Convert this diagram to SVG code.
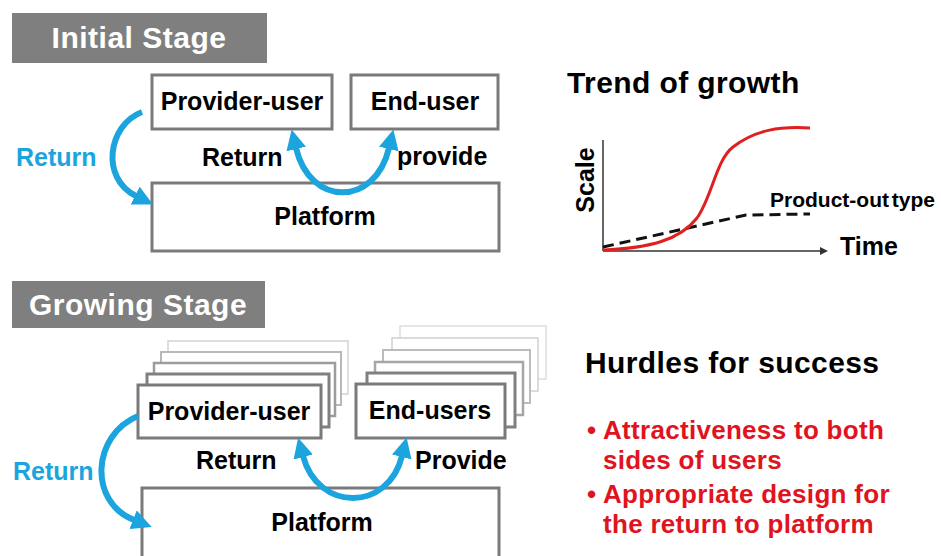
<svg xmlns="http://www.w3.org/2000/svg" width="941" height="556" viewBox="0 0 941 556">
<style>
text{font-family:"Liberation Sans",Arial,sans-serif;font-weight:bold;}
.banner{fill:#7f7f7f;}
.bt{fill:#ffffff;font-size:30px;letter-spacing:0.5px;text-anchor:middle;}
.box{fill:#ffffff;stroke:#7a7a7a;stroke-width:3;}
.lbl{fill:#000000;font-size:25px;text-anchor:middle;}
.blue{fill:#1ba4de;font-size:25px;}
.dk{fill:#000000;font-size:25px;}
.arr{fill:none;stroke:#1ba4de;stroke-width:6;}
.hd{fill:#000000;font-size:30px;letter-spacing:0.4px;}
.red{fill:#e0141e;font-size:26px;letter-spacing:0.3px;}
</style>
<defs>
<marker id="ah" markerUnits="userSpaceOnUse" viewBox="0 0 20 20" markerWidth="20" markerHeight="20" refX="1" refY="10" orient="auto-start-reverse">
<path d="M0,0 L20,10 L0,20 z" fill="#1ba4de"/>
</marker>
<marker id="ax" markerUnits="userSpaceOnUse" viewBox="0 0 8 8" markerWidth="8" markerHeight="8" refX="1" refY="4" orient="auto">
<path d="M0,0 L8,4 L0,8 z" fill="#333333"/>
</marker>
</defs>
<rect width="941" height="556" fill="#ffffff"/>

<g id="initial-stage">
<rect class="banner" x="12" y="13" width="255" height="50"/>
<text class="bt" x="139" y="48">Initial Stage</text>
</g>
<g id="provider-user-1">
<rect class="box" x="152" y="75" width="180" height="54"/>
<text class="lbl" x="242" y="110">Provider-user</text>
</g>
<g id="end-user-1">
<rect class="box" x="351" y="75" width="147" height="54"/>
<text class="lbl" x="425" y="110">End-user</text>
</g>
<g id="platform-1">
<rect class="box" x="152" y="183" width="347" height="68"/>
<text class="lbl" x="325" y="225">Platform</text>
</g>

<g id="growing-stage">
<rect class="banner" x="12" y="281" width="253" height="47"/>
<text class="bt" x="138" y="315">Growing Stage</text>
</g>
<g id="provider-user-2">
<rect class="box" x="168" y="341" width="180" height="53" style="stroke:#d3d3d3;stroke-width:1.5"/>
<rect class="box" x="161" y="352" width="180" height="53" style="stroke:#b8b8b8;stroke-width:2"/>
<rect class="box" x="154" y="363" width="181" height="53" style="stroke:#9c9c9c;stroke-width:2.5"/>
<rect class="box" x="147" y="374" width="182" height="53" style="stroke:#808080"/>
<rect class="box" x="138" y="385" width="183" height="53"/>
<text class="lbl" x="229" y="420">Provider-user</text>
</g>
<g id="end-users-2">
<rect class="box" x="400" y="326" width="146" height="53" style="stroke:#dedede;stroke-width:1.5"/>
<rect class="box" x="392" y="338" width="146" height="53" style="stroke:#d0d0d0;stroke-width:1.5"/>
<rect class="box" x="383" y="350" width="147" height="53" style="stroke:#bcbcbc;stroke-width:2"/>
<rect class="box" x="375" y="362" width="148" height="53" style="stroke:#a6a6a6;stroke-width:2.5"/>
<rect class="box" x="367" y="373" width="148" height="54" style="stroke:#808080"/>
<rect class="box" x="356" y="384" width="149" height="54"/>
<text class="lbl" x="430" y="419">End-users</text>
</g>
<g id="platform-2">
<rect class="box" x="142" y="488" width="357" height="72"/>
<text class="lbl" x="322" y="531">Platform</text>
</g>

<g id="connectors">
<path class="arr" d="M142,112 C108,125 100,178 136,196" marker-end="url(#ah)"/>
<path class="arr" d="M296,148 C310,207 375,207 389,148" marker-start="url(#ah)" marker-end="url(#ah)"/>
<path class="arr" d="M138,416 C92,435 88,502 134,520" marker-end="url(#ah)"/>
<path class="arr" d="M303,456 C318,512 388,512 402,456" marker-start="url(#ah)" marker-end="url(#ah)"/>
</g>
<g id="arrow-labels">
<text class="blue" x="16" y="166">Return</text>
<text class="dk" x="202" y="166">Return</text>
<text class="dk" x="397" y="165">provide</text>
<text class="blue" x="13" y="480">Return</text>
<text class="dk" x="196" y="469">Return</text>
<text class="dk" x="415" y="469">Provide</text>
</g>

<g id="trend-chart">
<text class="hd" x="567" y="93">Trend of growth</text>
<line x1="603" y1="140" x2="603" y2="251" stroke="#333333" stroke-width="1.5"/>
<line x1="603" y1="251" x2="821" y2="251" stroke="#333333" stroke-width="1.5" marker-end="url(#ax)"/>
<text class="dk" transform="translate(594,180) rotate(-90)" text-anchor="middle">Scale</text>
<text class="dk" x="840" y="255">Time</text>
<path d="M603,247 L746,215 L810,214" fill="none" stroke="#111111" stroke-width="3" stroke-dasharray="11 6"/>
<path d="M603,250 C650,248 680,240 697,218 C712,197 716,160 733,147 C755,130 780,126 810,128" fill="none" stroke="#e02020" stroke-width="3"/>
<text x="770" y="207" style="font-size:21px;word-spacing:-3px;fill:#000">Product-out type</text>
</g>

<g id="hurdles">
<text class="hd" x="585" y="373">Hurdles for success</text>
<text class="red" x="587" y="439">•<tspan x="603">Attractiveness to both</tspan></text>
<text class="red" x="603" y="469">sides of users</text>
<text class="red" x="587" y="503">•<tspan x="603">Appropriate design for</tspan></text>
<text class="red" x="603" y="533">the return to platform</text>
</g>
</svg>
